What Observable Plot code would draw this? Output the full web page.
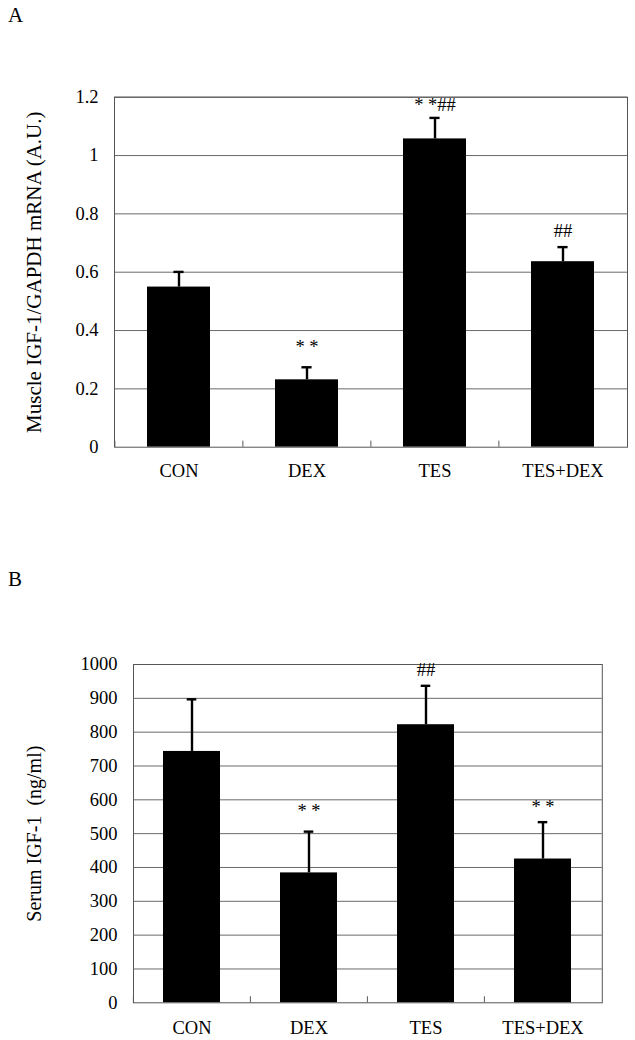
<!DOCTYPE html>
<html>
<head>
<meta charset="utf-8">
<script src="https://cdn.jsdelivr.net/npm/d3@7"></script>
<script src="https://cdn.jsdelivr.net/npm/@observablehq/plot@0.6"></script>
<style>
  body { margin: 0; background: #fff; }
  #wrap { position: relative; width: 635px; height: 1040px; font-family: "Liberation Serif", "Times New Roman", serif; }
  .panel { position: absolute; left: 0; }
  .letter { position: absolute; left: 8px; font-size: 21px; line-height: 21px; color: #000; }
</style>
</head>
<body>
<div id="wrap">
  <div class="panel" id="pa" style="top:0px"></div>
  <div class="panel" id="pb" style="top:520px"></div>
  <div class="letter" style="top:5px">A</div>
  <div class="letter" style="top:569px">B</div>
</div>
<script>
// ---- data ----
const groups = ["CON", "DEX", "TES", "TES+DEX"];

const muscleMean = [0.549, 0.231, 1.057, 0.636];
const muscleErr = [0.052, 0.043, 0.072, 0.050];
const muscleTicks = [0, 0.2, 0.4, 0.6, 0.8, 1, 1.2];
const muscleSig = ["", "* *", "* *##", "##"];
const muscleSigY = [null, 0.323, 1.154, 0.722];
const muscleTitle = "Muscle IGF-1/GAPDH mRNA (A.U.)";

const serumMean = [743, 384, 822, 425];
const serumErr = [154, 122, 115, 109];
const serumTicks = [0, 100, 200, 300, 400, 500, 600, 700, 800, 900, 1000];
const serumSig = ["", "* *", "##", "* *"];
const serumSigY = [null, 549, 965, 560];
const serumTitle = "Serum IGF-1\u00a0 (ng/ml)";

function panel(o) {
  const rows = groups.map((g, i) => ({
    g, v: o.means[i], hi: o.means[i] + o.errs[i], s: o.sig[i], sy: o.sigY[i]
  }));
  const step = (o.width - o.ml - o.mr) / groups.length;
  const bw = step * 0.49;
  const capInset = (bw - 10) / 2;
  return Plot.plot({
    width: o.width, height: o.height,
    marginLeft: o.ml, marginRight: o.mr, marginTop: o.mt, marginBottom: o.mb,
    style: { fontFamily: "'Liberation Serif', 'Times New Roman', serif", fontSize: "18.5px", color: "#000", background: "#fff", overflow: "visible" },
    x: { domain: groups, paddingInner: 0.51, paddingOuter: 0.255, align: 0.5 },
    y: { domain: [o.ticks[0], o.ticks[o.ticks.length - 1]] },
    marks: [
      Plot.gridY(o.ticks.filter(t => t > 0), { stroke: "#6a6a6a", strokeOpacity: 1 }),
      Plot.barY(rows, { x: "g", y: "v", fill: "#000" }),
      Plot.ruleX(rows, { x: "g", y1: "v", y2: "hi", stroke: "#000", strokeWidth: 2.4 }),
      Plot.tickY(rows, { x: "g", y: "hi", stroke: "#000", strokeWidth: 2.4, insetLeft: capInset, insetRight: capInset }),
      Plot.frame({ stroke: "#555" }),
      Plot.axisY({ ticks: o.ticks, tickFormat: d => String(d), tickSize: 0, tickPadding: 16, label: null }),
      Plot.axisX({ tickSize: 0, tickPadding: o.xPad, label: null }),
      Plot.axisX({ tickSize: -6, tickFormat: () => "", dx: -step / 2, label: null, stroke: "#555" }),
      Plot.text(rows.filter(d => d.s), { x: "g", y: "sy", text: "s", lineAnchor: "bottom", fontSize: 18.5 }),
      Plot.text([o.title], { text: d => d, frameAnchor: "left", textAnchor: "middle", lineAnchor: "middle", rotate: -90, dx: -(o.ml - 34), fontSize: o.titleSize })
    ]
  });
}

document.getElementById("pa").append(panel({
  means: muscleMean, errs: muscleErr, ticks: muscleTicks, sig: muscleSig, sigY: muscleSigY,
  title: muscleTitle, titleSize: 21,
  width: 635, height: 500, ml: 114, mr: 8, mt: 96.7, mb: 53.3, xPad: 17
}));

document.getElementById("pb").append(panel({
  means: serumMean, errs: serumErr, ticks: serumTicks, sig: serumSig, sigY: serumSigY,
  title: serumTitle, titleSize: 20,
  width: 635, height: 520, ml: 133, mr: 33.2, mt: 144, mb: 37.7, xPad: 17.6
}));
</script>
</body>
</html>
